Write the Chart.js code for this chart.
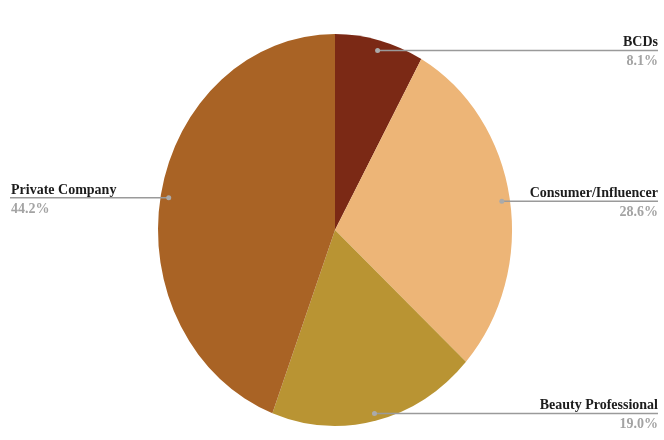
<!DOCTYPE html>
<html>
<head>
<meta charset="utf-8">
<script src="https://cdn.jsdelivr.net/npm/chart.js@4.4.0/dist/chart.umd.min.js"></script>
<style>
  html, body { margin: 0; padding: 0; background: #fff; }
  #wrap { width: 664px; height: 440px; position: relative; }
</style>
</head>
<body>
<div id="wrap"><canvas id="pieCanvas"></canvas></div>
<script>
const categories = ['BCDs', 'Consumer/Influencer', 'Beauty Professional', 'Private Company'];
const shares = [8.1, 28.6, 19.0, 44.2];
const shareLabels = ['8.1%', '28.6%', '19.0%', '44.2%'];
const sliceColors = ['#7b2915', '#edb577', '#b99433', '#a96325'];

// the source picture is a bit taller than wide
const yStretch = 1.107;

const ellipse = {
  id: 'ellipse',
  beforeDatasetsDraw(chart) {
    const arc = chart.getDatasetMeta(0).data[0];
    const ctx = chart.ctx;
    ctx.save();
    ctx.translate(arc.x, arc.y);
    ctx.scale(1, yStretch);
    ctx.translate(-arc.x, -arc.y);
  },
  afterDatasetsDraw(chart) {
    chart.ctx.restore();
  }
};

const leaderLabels = {
  id: 'leaderLabels',
  afterDraw(chart) {
    const ctx = chart.ctx;
    const meta = chart.getDatasetMeta(0);
    meta.data.forEach((arc, i) => {
      const p = arc.getProps(['x', 'y', 'startAngle', 'endAngle', 'outerRadius'], true);
      const mid = (p.startAngle + p.endAngle) / 2;
      const dx = p.x + Math.cos(mid) * p.outerRadius * 0.955;
      const dy = p.y + Math.sin(mid) * p.outerRadius * 0.955 * yStretch + 1.5;
      const right = Math.cos(mid) >= 0;
      const edge = right ? chart.width - 6 : 10;

      ctx.save();
      ctx.strokeStyle = '#9a9a9a';
      ctx.lineWidth = 1.5;
      ctx.beginPath();
      ctx.moveTo(dx, dy);
      ctx.lineTo(edge, dy);
      ctx.stroke();

      ctx.fillStyle = '#aaaaaa';
      ctx.beginPath();
      ctx.arc(dx, dy, 2.5, 0, Math.PI * 2);
      ctx.fill();

      ctx.textAlign = right ? 'right' : 'left';
      ctx.textBaseline = 'alphabetic';
      ctx.font = 'bold 14px "Liberation Serif", "Times New Roman", serif';
      ctx.fillStyle = '#1c1c1c';
      ctx.fillText(categories[i], right ? edge : edge + 1, dy - 4);
      ctx.fillStyle = '#a3a3a3';
      ctx.fillText(shareLabels[i], right ? edge : edge + 1, dy + 15);
      ctx.restore();
    });
  }
};

const config = {
  type: 'pie',
  data: {
    labels: categories,
    datasets: [{
      data: shares,
      backgroundColor: sliceColors,
      borderWidth: 0
    }]
  },
  options: {
    responsive: true,
    maintainAspectRatio: false,
    animation: false,
    layout: {
      padding: { left: 158, right: 152, top: 53, bottom: 33 }
    },
    plugins: {
      legend: { display: false },
      tooltip: { enabled: false }
    }
  },
  plugins: [ellipse, leaderLabels]
};

const myChart = new Chart(document.getElementById('pieCanvas'), config);
</script>
</body>
</html>
